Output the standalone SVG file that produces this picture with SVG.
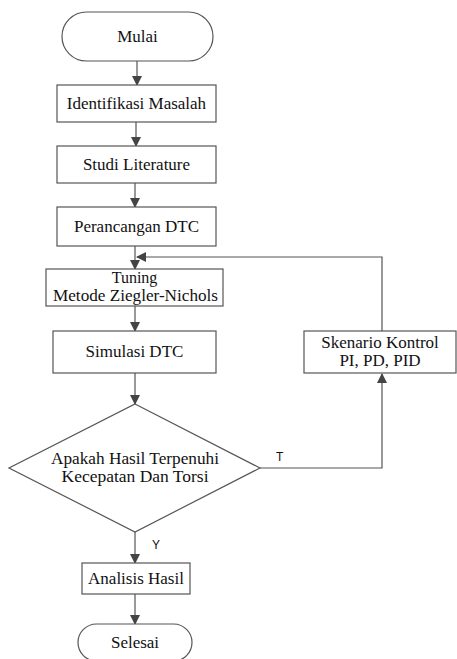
<svg xmlns="http://www.w3.org/2000/svg" width="457" height="659" viewBox="0 0 457 659">
<defs>
<marker id="ah" markerWidth="10" markerHeight="10" refX="9" refY="5" orient="auto" markerUnits="userSpaceOnUse">
<path d="M0,0 L10,5 L0,10 Z" fill="#444"/>
</marker>
<style>
.n{fill:#fff;stroke:#555;stroke-width:1.2}
.t{font-family:'Liberation Serif','DejaVu Serif',serif;font-size:17px;fill:#111;text-anchor:middle}
.t2{font-size:16px}
.l{font-family:'Liberation Sans','DejaVu Sans',sans-serif;font-size:12px;fill:#111}
.c{fill:none;stroke:#555;stroke-width:1.2}
</style>
</defs>
<rect width="457" height="659" fill="#fff"/>
<g id="connectors">
<line class="c" x1="137" y1="61" x2="137" y2="85" marker-end="url(#ah)"/>
<line class="c" x1="136" y1="122" x2="136" y2="146" marker-end="url(#ah)"/>
<line class="c" x1="135" y1="183" x2="135" y2="207" marker-end="url(#ah)"/>
<line class="c" x1="135" y1="246" x2="135" y2="269" marker-end="url(#ah)"/>
<line class="c" x1="135" y1="306" x2="135" y2="331" marker-end="url(#ah)"/>
<line class="c" x1="135" y1="373" x2="135" y2="404" marker-end="url(#ah)"/>
<polyline class="c" points="260,468 382,468 382,374" marker-end="url(#ah)"/>
<polyline class="c" points="382,331 382,257 137,257" marker-end="url(#ah)"/>
<line class="c" x1="135" y1="532" x2="135" y2="563" marker-end="url(#ah)"/>
<line class="c" x1="135" y1="594" x2="135" y2="624" marker-end="url(#ah)"/>
<text class="l" x="276" y="461">T</text>
<text class="l" x="152" y="549">Y</text>
</g>
<g id="mulai">
<rect class="n" x="62" y="12" width="151" height="49" rx="24.5" ry="24.5"/>
<text class="t" x="137.5" y="42">Mulai</text>
</g>
<g id="identifikasi">
<rect class="n" x="57" y="85" width="159" height="37"/>
<text class="t" x="136.5" y="109">Identifikasi Masalah</text>
</g>
<g id="studi">
<rect class="n" x="57" y="146" width="159" height="37"/>
<text class="t" x="136.5" y="170">Studi Literature</text>
</g>
<g id="perancangan">
<rect class="n" x="57" y="207" width="159" height="39"/>
<text class="t" x="136.5" y="232">Perancangan DTC</text>
</g>
<g id="tuning">
<rect class="n" x="46" y="269" width="177" height="37"/>
<text class="t t2" x="134.5" y="283">Tuning</text>
<text class="t t2" x="135.5" y="301" textLength="165" lengthAdjust="spacingAndGlyphs">Metode Ziegler-Nichols</text>
</g>
<g id="simulasi">
<rect class="n" x="53" y="331" width="163" height="42"/>
<text class="t" x="134.5" y="357">Simulasi DTC</text>
</g>
<g id="keputusan">
<polygon class="n" points="135,404 260,468 135,532 9,468"/>
<text class="t t2" x="135" y="464" textLength="168" lengthAdjust="spacingAndGlyphs">Apakah Hasil Terpenuhi</text>
<text class="t t2" x="135" y="482" textLength="147" lengthAdjust="spacingAndGlyphs">Kecepatan Dan Torsi</text>
</g>
<g id="skenario">
<rect class="n" x="304" y="331" width="152" height="42"/>
<text class="t" x="380" y="348">Skenario Kontrol</text>
<text class="t" x="380" y="366">PI, PD, PID</text>
</g>
<g id="analisis">
<rect class="n" x="82" y="563" width="108" height="31"/>
<text class="t" x="136" y="584">Analisis Hasil</text>
</g>
<g id="selesai">
<rect class="n" x="78" y="624" width="114" height="37" rx="18.5" ry="18.5"/>
<text class="t" x="135" y="648">Selesai</text>
</g>
</svg>
